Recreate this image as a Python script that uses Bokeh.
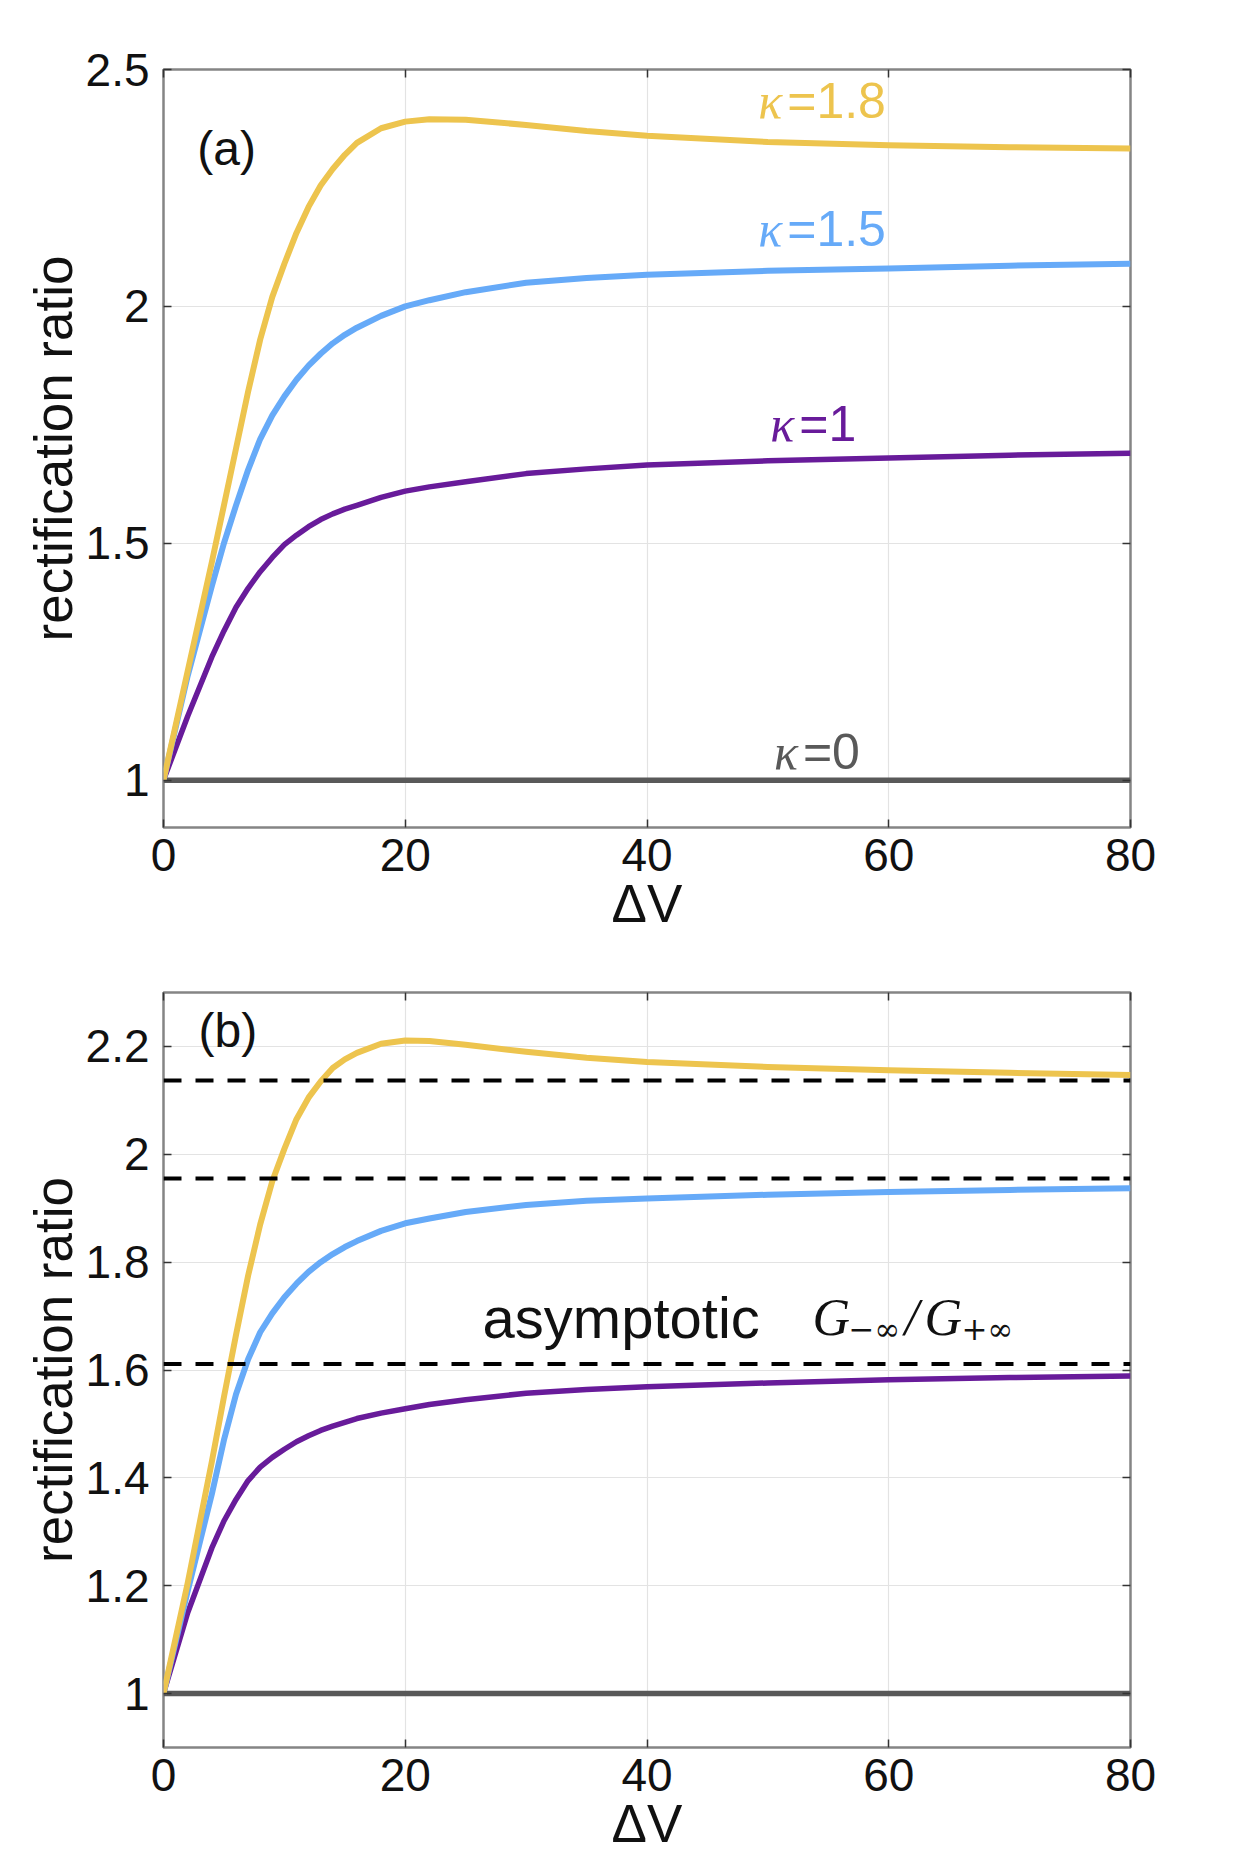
from bokeh.plotting import figure
from bokeh.layouts import column
from bokeh.models import FixedTicker, LinearAxis, CustomJSTickFormatter, Range1d
from bokeh.core.properties import value
from bokeh.embed import file_html
from bokeh.resources import INLINE

# ---------------- data ----------------
dv = [0, 2, 4, 5, 6, 7, 8, 9, 10, 11, 12, 13, 14, 15, 16, 18, 20, 22, 25, 30, 35, 40, 50, 60, 70, 80]

# panel (a)
a_k18 = [1.0, 1.23, 1.46, 1.58, 1.70, 1.82, 1.93, 2.02, 2.09, 2.155, 2.21, 2.255, 2.29, 2.32,
         2.345, 2.376, 2.39, 2.395, 2.394, 2.383, 2.37, 2.36, 2.347, 2.34, 2.336, 2.333]
a_k15 = [1.0, 1.22, 1.41, 1.50, 1.58, 1.655, 1.72, 1.77, 1.81, 1.845, 1.875, 1.90, 1.922, 1.94,
         1.955, 1.98, 2.0, 2.013, 2.03, 2.05, 2.06, 2.067, 2.075, 2.08, 2.086, 2.09]
a_k1 = [1.0, 1.135, 1.26, 1.315, 1.365, 1.405, 1.44, 1.47, 1.497, 1.517, 1.535, 1.55, 1.562, 1.572,
        1.58, 1.597, 1.61, 1.619, 1.63, 1.647, 1.657, 1.665, 1.674, 1.68, 1.686, 1.69]
k0_dv = [0, 80]
k0 = [1.0, 1.0]

# panel (b)
b_k18 = [1.0, 1.205, 1.43, 1.55, 1.665, 1.775, 1.87, 1.95, 2.01, 2.065, 2.105, 2.135, 2.16, 2.176,
         2.188, 2.205, 2.211, 2.21, 2.203, 2.19, 2.179, 2.171, 2.162, 2.156, 2.151, 2.147]
b_k15 = [1.0, 1.19, 1.37, 1.47, 1.555, 1.62, 1.67, 1.705, 1.735, 1.76, 1.782, 1.80, 1.815, 1.828,
         1.839, 1.858, 1.872, 1.881, 1.893, 1.906, 1.914, 1.918, 1.925, 1.93, 1.934, 1.937]
b_k1 = [1.0, 1.15, 1.27, 1.32, 1.36, 1.395, 1.42, 1.438, 1.453, 1.467, 1.478, 1.488, 1.496, 1.503,
        1.51, 1.52, 1.528, 1.536, 1.545, 1.557, 1.564, 1.569, 1.576, 1.582, 1.586, 1.589]
asym_levels = [2.137, 1.955, 1.611]
asym_dv = [0, 80]

x_ticks = [0, 20, 40, 60, 80]
ya_ticks = [1, 1.5, 2, 2.5]
yb_ticks = [1, 1.2, 1.4, 1.6, 1.8, 2, 2.2]

kappa_values_a = ["=1.8", "=1.5", "=1", "=0"]
panel_tags = ["(a)", "(b)"]
x_label = "\u0394V"
y_label = "rectification ratio"

# ---------------- style ----------------
YEL = "#EDC44E"
BLU = "#66AAF8"
PUR = "#681B9A"
GRY = "#595959"
SANS = "Liberation Sans"
SERIF = "Liberation Serif"
TXT = "#111111"
TY = -20  # baseline correction for text glyphs (pixels)

fmt_code = "return String(Math.round(tick*10)/10);"


def make_fig(ymin, ymax, yticks, height, top, bottom):
    p = figure(width=1200, height=height, output_backend="svg", toolbar_location=None,
               x_range=Range1d(0, 80), y_range=Range1d(ymin, ymax),
               min_border_left=163, min_border_right=70,
               min_border_top=top, min_border_bottom=bottom)
    p.background_fill_color = "white"
    p.border_fill_color = "white"
    p.outline_line_color = "#858585"
    p.outline_line_width = 2.5

    xa = p.below[0]
    ya = p.left[0]
    xa.ticker = FixedTicker(ticks=x_ticks)
    ya.ticker = FixedTicker(ticks=yticks)
    ya.formatter = CustomJSTickFormatter(code=fmt_code)
    for ax in (xa, ya):
        ax.axis_line_color = None
        ax.major_tick_in = 8
        ax.major_tick_out = 0
        ax.major_tick_line_color = "#333333"
        ax.major_tick_line_width = 1.5
        ax.minor_tick_line_color = None
        ax.major_label_text_font = SANS
        ax.major_label_text_font_size = "46px"
        ax.major_label_text_color = TXT
        ax.axis_label_text_font = SANS
        ax.axis_label_text_font_size = "53px"
        ax.axis_label_text_font_style = "normal"
        ax.axis_label_text_color = TXT
    xa.axis_label = x_label
    ya.axis_label = y_label
    xa.major_label_standoff = 11
    xa.axis_label_standoff = 0
    ya.major_label_standoff = 14
    ya.axis_label_standoff = 0

    p.xgrid.ticker = FixedTicker(ticks=x_ticks)
    p.ygrid.ticker = FixedTicker(ticks=yticks)
    for g in (p.xgrid, p.ygrid):
        g.grid_line_color = "#e3e3e3"
        g.grid_line_width = 1.2

    # box ticks on top and right
    for loc, tk in (("above", x_ticks), ("right", yticks)):
        ax = LinearAxis(ticker=FixedTicker(ticks=tk),
                        formatter=CustomJSTickFormatter(code="return '';"),
                        axis_line_color=None, major_tick_in=8, major_tick_out=0,
                        major_tick_line_color="#333333", major_tick_line_width=1.5,
                        minor_tick_line_color=None, major_label_text_font_size="0px",
                        major_label_standoff=0)
        p.add_layout(ax, loc)
    return p


# ---------------- panel (a) ----------------
pa = make_fig(0.9, 2.5, ya_ticks, 940, 69, 113)
pa.line(k0_dv, k0, line_color=GRY, line_width=5.5)
pa.line(dv, a_k1, line_color=PUR, line_width=5.5, line_join="round")
pa.line(dv, a_k15, line_color=BLU, line_width=6, line_join="round")
pa.line(dv, a_k18, line_color=YEL, line_width=6, line_join="round")

lab_x = [49.2, 49.2, 50.2, 50.5]
lab_y = [2.392, 2.122, 1.71, 1.018]
lab_c = [YEL, BLU, PUR, GRY]
pa.text(x=lab_x, y=lab_y, text=["\u03ba"] * 4, text_color=lab_c, y_offset=TY,
        text_font=value(SERIF), text_font_style="italic", text_font_size=value("50px"),
        text_baseline="alphabetic", text_align="left")
pa.text(x=lab_x, y=lab_y, text=kappa_values_a, text_color=lab_c, x_offset=29, y_offset=TY,
        text_font=value(SANS), text_font_size=value("50px"),
        text_baseline="alphabetic", text_align="left")
pa.text(x=[2.8], y=[2.29], text=[panel_tags[0]], text_color=TXT, y_offset=TY,
        text_font=value(SANS), text_font_size=value("48px"),
        text_baseline="alphabetic", text_align="left")

# ---------------- panel (b) ----------------
pb = make_fig(0.9, 2.3, yb_ticks, 917, 52, 110)
pb.line(k0_dv, k0, line_color=GRY, line_width=5.5)
pb.line(dv, b_k1, line_color=PUR, line_width=5.5, line_join="round")
pb.line(dv, b_k15, line_color=BLU, line_width=6, line_join="round")
pb.line(dv, b_k18, line_color=YEL, line_width=6, line_join="round")
pb.segment(x0=[asym_dv[0]] * 3, x1=[asym_dv[1]] * 3, y0=asym_levels, y1=asym_levels,
           line_color="black", line_width=4, line_dash="18 14")

pb.text(x=[2.9], y=[2.192], text=[panel_tags[1]], text_color=TXT, y_offset=TY,
        text_font=value(SANS), text_font_size=value("48px"),
        text_baseline="alphabetic", text_align="left")
pb.text(x=[26.4], y=[1.66], text=["asymptotic"], text_color=TXT, y_offset=TY,
        text_font=value(SANS), text_font_size=value("58px"),
        text_baseline="alphabetic", text_align="left")
# G_{-inf}/G_{+inf}
pb.text(x=[53.7, 53.7, 53.7], y=[1.66] * 3, text=["G", "/", "G"], x_offset=[0, 92, 112],
        y_offset=TY, text_color=TXT, text_font=value(SERIF), text_font_style="italic",
        text_font_size=value("52px"), text_baseline="alphabetic", text_align="left")
pb.text(x=[53.7, 53.7], y=[1.66] * 2, text=["\u2212\u221e", "+\u221e"], x_offset=[36, 149],
        y_offset=TY + 11, text_color=TXT, text_font=value("DejaVu Serif"),
        text_font_size=value("31px"), text_baseline="alphabetic", text_align="left")

layout = column(pa, pb, spacing=0)
open("out.html", "w").write(file_html(layout, INLINE))
